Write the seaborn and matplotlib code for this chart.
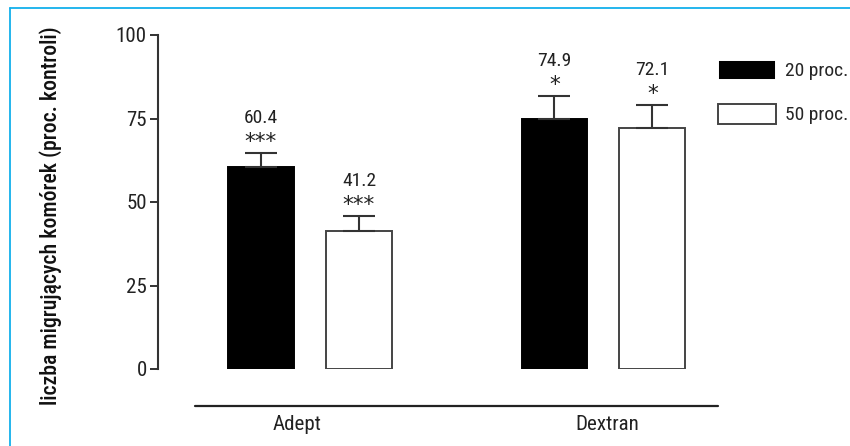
import numpy as np
import pandas as pd
import seaborn as sns
import matplotlib.pyplot as plt
from matplotlib.lines import Line2D
from matplotlib import font_manager

# data
groups = ['Adept', 'Dextran']
conc = ['20 proc.', '50 proc.']
values_20 = [60.4, 74.9]
values_50 = [41.2, 72.1]
errors_20 = [4.3, 6.9]
errors_50 = [4.6, 6.9]
stars_20 = ['***', '*']
stars_50 = ['***', '*']
yticks = [0, 25, 50, 75, 100]

df = pd.DataFrame({
    'group': groups * 2,
    'conc': [conc[0]] * 2 + [conc[1]] * 2,
    'value': values_20 + values_50,
    'err': errors_20 + errors_50,
    'stars': stars_20 + stars_50,
})

sns.set_style('white')
names = {f.name for f in font_manager.fontManager.ttflist}
# a narrow face is closer to the original; fall back to Liberation Sans
narrow = [n for n in ['Roboto Condensed', 'Open Sans Condensed', 'Liberation Sans Narrow']
          if n in names]
scale = 1.12 if narrow else 1.0
plt.rcParams['font.family'] = narrow[:1] + ['Liberation Sans', 'DejaVu Sans']

fig = plt.figure(figsize=(8.5, 4.46), dpi=100)
ax = fig.add_axes([158 / 850, 1 - 369 / 446, (750 - 158) / 850, (369 - 35) / 446])

sns.barplot(data=df, x='group', y='value', hue='conc', hue_order=conc,
            order=groups, palette=['black', 'white'], width=0.668, gap=0.33,
            errorbar=None, ax=ax, linewidth=1.4)

# edge colours and error bars from the drawn patches
bars = [p for p in ax.patches if p.get_height() > 0]
bars = sorted(bars, key=lambda p: p.get_x())
order_rows = [(0, 0), (0, 1), (1, 0), (1, 1)]
for p, (g, c) in zip(bars, order_rows):
    row = df[(df.group == groups[g]) & (df.conc == conc[c])].iloc[0]
    p.set_edgecolor('black' if c == 0 else '#444444')
    xc = p.get_x() + p.get_width() / 2
    top = row.value + row.err
    ax.errorbar(xc, row.value, yerr=[[0], [row.err]], fmt='none',
                ecolor='#333333', elinewidth=1.5, capsize=11.5, capthick=1.5,
                zorder=1)
    ax.text(xc, top + 3.2, row.stars, ha='center', va='center',
            fontsize=15.5, color='#222222', family='DejaVu Sans')
    ax.text(xc, top + 10.5, f'{row.value:.1f}', ha='center', va='center',
            fontsize=12.5 * scale, color='#222222')

ax.set_xlim(-0.518, 1.5)
ax.set_ylim(0, 100)
ax.set_yticks(yticks)
ax.set_yticklabels([str(t) for t in yticks], fontsize=13.5 * scale, color='#222222')
ax.set_xticks([])
ax.set_xlabel('')
ax.set_ylabel('liczba migrujących komórek (proc. kontroli)', fontsize=14 * scale,
              color='#111111', fontweight='medium')
ax.yaxis.set_label_coords((62 - 158) / 592, (369 - 216) / 334)
ax.tick_params(axis='y', direction='out', length=6, width=1.4,
               color='#333333', pad=2, left=True)
for s in ['top', 'right', 'bottom']:
    ax.spines[s].set_visible(False)
ax.spines['left'].set_color('#333333')
ax.spines['left'].set_linewidth(1.5)
ax.patch.set_alpha(0)

# line under both groups and group names
ax.add_line(Line2D([-0.392, 1.39], [-11.1, -11.1], color='#222222',
                   lw=1.6, clip_on=False))
label_shift = [-0.044, 0.012]
for i, g in enumerate(groups):
    ax.text(i + label_shift[i], -13.7, g, ha='center', va='top',
            fontsize=13.5 * scale, color='#222222')

leg = ax.legend(loc='upper left', bbox_to_anchor=(718 / 850, 1 - 60 / 446),
                bbox_transform=fig.transFigure, frameon=False, fontsize=12.5 * scale,
                handlelength=3.35 / scale, handleheight=1.33 / scale,
                labelspacing=1.35 / scale,
                borderpad=0, borderaxespad=0, handletextpad=0.45)
for h in leg.legend_handles:
    h.set_linewidth(1.4)
leg.legend_handles[1].set_edgecolor('#444444')

# light blue frame on top and left
fig.add_artist(Line2D([9.5 / 850, 1], [1 - 8 / 446, 1 - 8 / 446],
                      color='#12b0ec', lw=1.3, transform=fig.transFigure))
fig.add_artist(Line2D([9.5 / 850, 9.5 / 850], [0, 1 - 8 / 446],
                      color='#12b0ec', lw=1.3, transform=fig.transFigure))

fig.savefig('out.png', dpi=100)
